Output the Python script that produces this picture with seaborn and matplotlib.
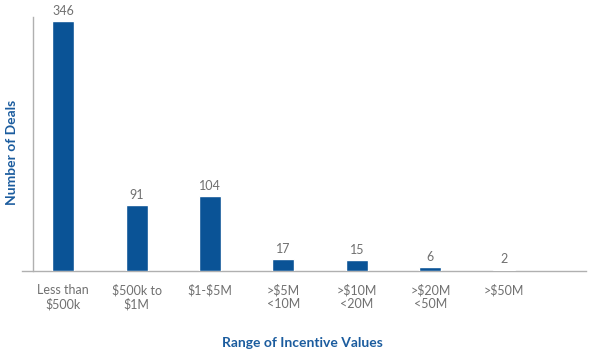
import pandas as pd
import matplotlib.pyplot as plt
import seaborn as sns

# chart data
categories = ["Less than\n$500k", "$500k to\n$1M", "$1-$5M", ">$5M\n<10M",
              ">$10M\n<20M", ">$20M\n<50M", ">$50M"]
deals = [346, 91, 104, 17, 15, 6, 2]

df = pd.DataFrame({"range": categories, "deals": deals})

sns.set_style("white")
plt.rcParams['font.family'] = ['Lato', 'DejaVu Sans']
plt.rcParams['text.parse_math'] = False

bar_color = "#0a5396"
title_color = "#1b5c9e"
gray = "#707070"

fig = plt.figure(figsize=(5.92, 3.54), dpi=100)
ax = fig.add_axes([22 / 592, 1 - 271 / 354, (586 - 22) / 592, (271 - 17) / 354])

sns.barplot(data=df, x="range", y="deals", color=bar_color, width=0.3,
            saturation=1, ax=ax)
for p in ax.patches:
    p.set_zorder(3)

for i, v in enumerate(deals):
    ax.annotate(str(v), (i, v), xytext=(0, 3), textcoords="offset points",
                ha="center", va="bottom", fontsize=9, color=gray)

ax.set_xlim(-0.56, 7.12)
ax.set_ylim(0, 352)
ax.set_yticks([])
ax.tick_params(axis="x", length=0, pad=9, labelsize=9, labelcolor=gray)

for s in ["top", "right"]:
    ax.spines[s].set_visible(False)
ax.spines["left"].set_position(("data", -0.41))
for s in ["left", "bottom"]:
    ax.spines[s].set_color("#b0b0b0")
    ax.spines[s].set_linewidth(1)
    ax.spines[s].set_zorder(1)

ax.set_xlabel("")
ax.set_ylabel("")
fig.text(302 / 592, 1 - 343 / 354, "Range of Incentive Values", ha="center",
         va="center", fontsize=10, fontweight="bold", color=title_color)
fig.text(12 / 592, 1 - 152 / 354, "Number of Deals", ha="center",
         va="center", rotation=90, fontsize=10, fontweight="bold", color=title_color)

fig.savefig("out.png", dpi=100)
